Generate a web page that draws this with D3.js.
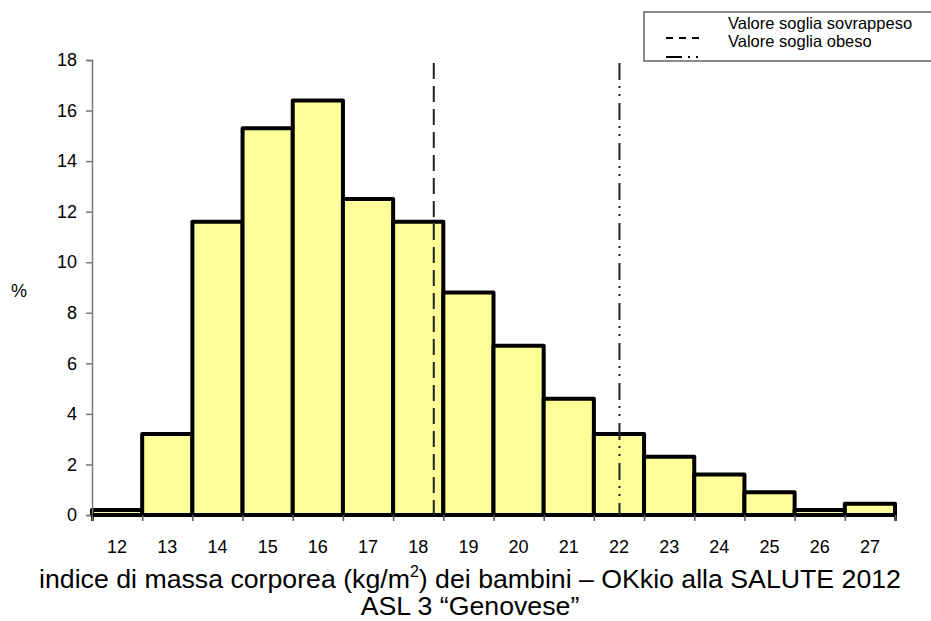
<!DOCTYPE html>
<html>
<head>
<meta charset="utf-8">
<script src="https://cdn.jsdelivr.net/npm/d3@7"></script>
<style>
  html, body { margin: 0; padding: 0; background: #fff; }
  svg { display: block; font-family: "Liberation Sans", Arial, sans-serif; }
</style>
</head>
<body>
<svg id="chart" width="931" height="621"></svg>
<script>
// ---- data ----
const categories = ["12","13","14","15","16","17","18","19","20","21","22","23","24","25","26","27"];
const percentages = [0.2, 3.2, 11.6, 15.3, 16.4, 12.5, 11.6, 8.8, 6.7, 4.6, 3.2, 2.3, 1.6, 0.9, 0.2, 0.45];
const yTicks = [0, 2, 4, 6, 8, 10, 12, 14, 16, 18];
const thresholdNames = ["Valore soglia sovrappeso", "Valore soglia obeso"];
const thresholdValues = [18.31, 22.01];
const yLabel = "%";
const titleLine1 = ["indice di massa corporea (kg/m", "2", ") dei bambini – OKkio alla SALUTE 2012"];
const titleLine2 = "ASL 3 “Genovese”";

// ---- layout ----
const svg = d3.select("#chart");
const pLeft = 92, pRight = 895, pTop = 60, pBottom = 515;

const x = d3.scaleBand().domain(categories).range([pLeft, pRight]).padding(0);
const xLin = d3.scaleLinear().domain([11.5, 27.5]).range([pLeft, pRight]);
const y = d3.scaleLinear().domain([0, 18]).range([pBottom, pTop]);

// bars
svg.append("g").selectAll("rect")
  .data(categories.map((c, i) => ({c, v: percentages[i]})))
  .join("rect")
  .attr("x", d => x(d.c))
  .attr("width", x.bandwidth())
  .attr("y", d => y(d.v))
  .attr("height", d => y(0) - y(d.v))
  .attr("fill", "#FFFF99")
  .attr("stroke", "#000")
  .attr("stroke-width", 4)
  .attr("stroke-linejoin", "round");

// y axis
const yAxis = svg.append("g")
  .attr("transform", `translate(${pLeft},0)`)
  .call(d3.axisLeft(y).tickValues(yTicks).tickSize(6).tickPadding(9).tickFormat(d3.format("d")));
yAxis.select(".domain").attr("stroke", "#777").attr("stroke-width", 1.5);
yAxis.selectAll(".tick line").attr("stroke", "#777").attr("stroke-width", 1.5);
yAxis.selectAll(".tick text").attr("font-size", 18).attr("fill", "#000")
  .attr("font-family", "Liberation Sans, Arial, sans-serif");

// x axis (ticks at band edges)
const xEdges = d3.range(categories.length + 1).map(i => 11.5 + i);
const xAxis = svg.append("g")
  .attr("transform", `translate(0,${pBottom})`)
  .call(d3.axisBottom(xLin).tickValues(xEdges).tickSize(6).tickFormat(""));
xAxis.select(".domain").attr("stroke", "#000").attr("stroke-width", 2.5);
xAxis.selectAll(".tick line").attr("stroke", "#555").attr("stroke-width", 1.5);

// x labels
svg.append("g").selectAll("text")
  .data(categories)
  .join("text")
  .attr("x", d => x(d) + x.bandwidth() / 2)
  .attr("y", 553)
  .attr("text-anchor", "middle")
  .attr("font-size", 18)
  .attr("fill", "#000")
  .text(d => d);

// y label
svg.append("text")
  .attr("x", 19).attr("y", 297)
  .attr("text-anchor", "middle")
  .attr("font-size", 18)
  .text(yLabel);

// threshold lines
const dashes = ["16,7", "17,6,2,6,2,7"];
svg.append("g").selectAll("line")
  .data(thresholdValues)
  .join("line")
  .attr("x1", d => xLin(d)).attr("x2", d => xLin(d))
  .attr("y1", 63).attr("y2", pBottom)
  .attr("stroke", "#222")
  .attr("stroke-width", 2)
  .attr("stroke-dasharray", (d, i) => dashes[i]);

// legend
const lg = svg.append("g");
lg.append("rect")
  .attr("x", 644).attr("y", 12).attr("width", 320).attr("height", 49)
  .attr("fill", "#fff").attr("stroke", "#666").attr("stroke-width", 1.5);
lg.selectAll("text")
  .data(thresholdNames)
  .join("text")
  .attr("x", 728)
  .attr("y", (d, i) => 29 + i * 18)
  .attr("font-size", 16.5)
  .attr("fill", "#000")
  .text(d => d);
const legDash = ["7,6", "16,6,2,6,2,6"];
lg.selectAll("line")
  .data(thresholdNames)
  .join("line")
  .attr("x1", 666).attr("x2", 704)
  .attr("y1", (d, i) => 38 + i * 19).attr("y2", (d, i) => 38 + i * 19)
  .attr("stroke", "#000")
  .attr("stroke-width", 2)
  .attr("stroke-dasharray", (d, i) => legDash[i]);

// title
const t1 = svg.append("text")
  .attr("x", 470).attr("y", 588)
  .attr("text-anchor", "middle")
  .attr("font-size", 26.7)
  .attr("fill", "#000");
t1.append("tspan").text(titleLine1[0]);
t1.append("tspan").attr("font-size", 16).attr("dy", -11).text(titleLine1[1]);
t1.append("tspan").attr("dy", 11).text(titleLine1[2]);

svg.append("text")
  .attr("x", 470).attr("y", 615)
  .attr("text-anchor", "middle")
  .attr("font-size", 26.7)
  .attr("fill", "#000")
  .text(titleLine2);
</script>
</body>
</html>
